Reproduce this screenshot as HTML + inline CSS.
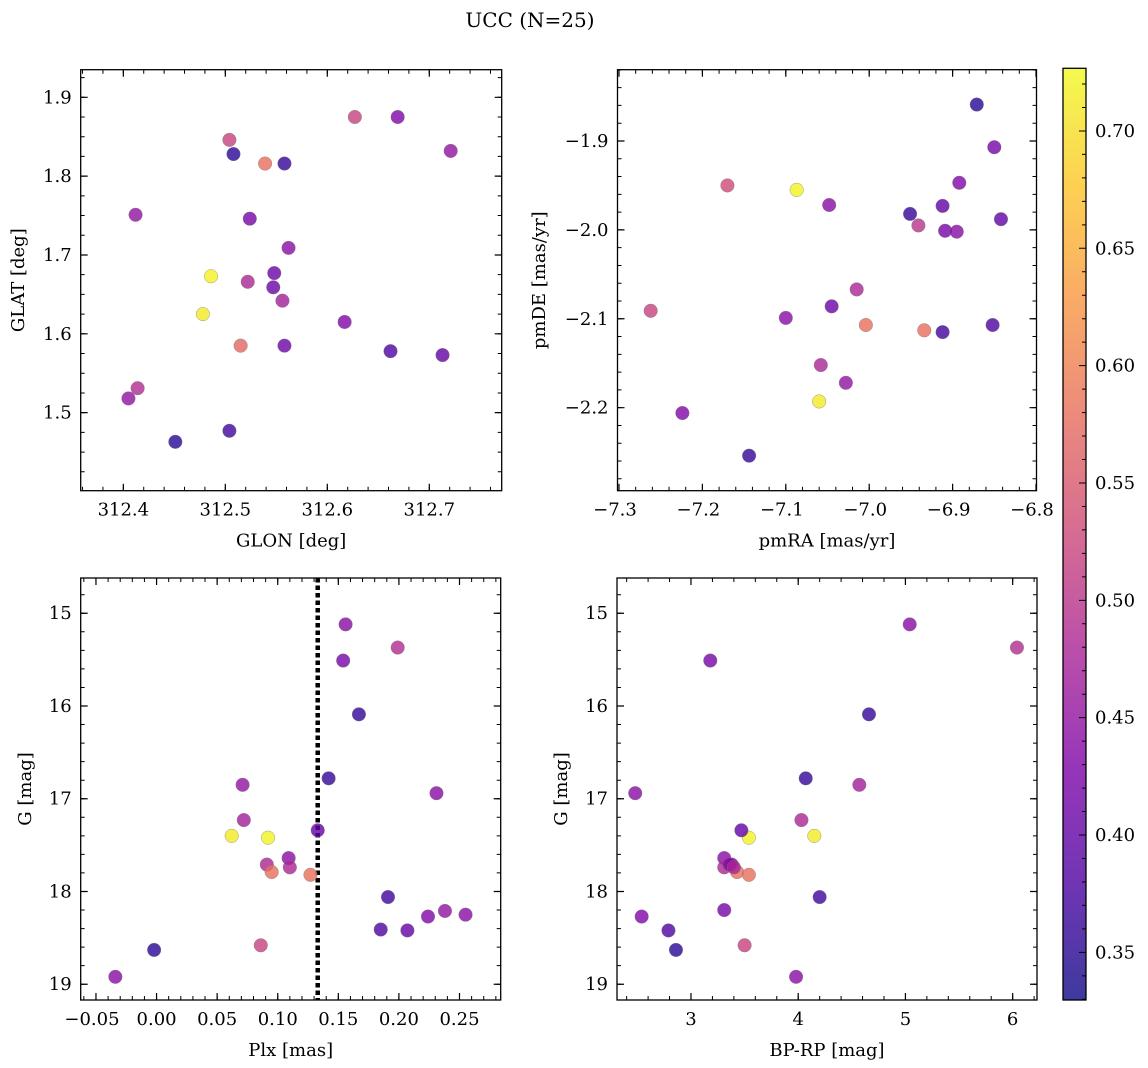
<!DOCTYPE html>
<html><head><meta charset="utf-8">
<style>
html,body{margin:0;padding:0;background:#fff;}
svg{display:block;font-family:"DejaVu Serif","Liberation Serif",serif;}
</style></head>
<body>
<svg id="fig" width="1148" height="1068" viewBox="0 0 1148 1068" xmlns="http://www.w3.org/2000/svg">
<defs>
<linearGradient id="plasma" x1="0" y1="1" x2="0" y2="0">
<stop offset="0" stop-color="#0d0887"/><stop offset="0.125" stop-color="#4c02a1"/><stop offset="0.25" stop-color="#7e03a8"/><stop offset="0.375" stop-color="#a92395"/><stop offset="0.5" stop-color="#cc4778"/><stop offset="0.625" stop-color="#e66c5c"/><stop offset="0.75" stop-color="#f89540"/><stop offset="0.875" stop-color="#fdc527"/><stop offset="1" stop-color="#f0f921"/>
</linearGradient>
</defs>
<text x="530" y="27" text-anchor="middle" font-size="20">UCC (N=25)</text>
</svg>
<script>
// Panel 1: GLON vs GLAT
const glon1 = [312.504,312.508,312.539,312.558,312.627,312.669,312.721,312.412,312.524,312.562,312.486,312.548,312.522,312.547,312.556,312.478,312.617,312.515,312.558,312.662,312.713,312.414,312.405,312.451,312.504];
const glat1 = [1.846,1.828,1.816,1.816,1.875,1.875,1.832,1.751,1.746,1.709,1.673,1.677,1.666,1.659,1.642,1.625,1.615,1.585,1.585,1.578,1.573,1.531,1.518,1.463,1.477];
const prob1 = [0.52,0.35,0.58,0.36,0.52,0.43,0.45,0.45,0.42,0.44,0.72,0.41,0.48,0.41,0.47,0.71,0.43,0.57,0.41,0.38,0.40,0.49,0.45,0.35,0.37];
// Panel 2: pmRA vs pmDE
const pmra2 = [-6.871,-6.850,-6.892,-6.951,-6.912,-6.842,-6.909,-6.895,-6.941,-7.170,-7.087,-7.048,-7.262,-7.015,-7.045,-7.100,-7.004,-6.934,-6.912,-6.852,-7.058,-7.028,-7.060,-7.224,-7.144];
const pmde2 = [-1.859,-1.907,-1.947,-1.982,-1.973,-1.988,-2.001,-2.002,-1.995,-1.950,-1.955,-1.972,-2.091,-2.067,-2.086,-2.099,-2.107,-2.113,-2.115,-2.107,-2.152,-2.172,-2.193,-2.206,-2.254];
const prob2 = [0.35,0.42,0.43,0.36,0.40,0.40,0.42,0.44,0.50,0.53,0.72,0.44,0.52,0.48,0.41,0.44,0.58,0.58,0.37,0.38,0.48,0.45,0.71,0.43,0.36];
// Panel 3: Plx vs G
const plx3 = [0.156,0.199,0.154,0.167,0.142,0.071,0.231,0.072,0.062,0.092,0.133,0.091,0.109,0.110,0.095,0.127,0.191,0.238,0.224,0.255,0.185,0.207,0.086,-0.002,-0.034];
const g3 = [15.12,15.37,15.51,16.09,16.78,16.85,16.94,17.23,17.40,17.42,17.34,17.71,17.64,17.74,17.79,17.82,18.06,18.21,18.27,18.25,18.41,18.42,18.58,18.63,18.92];
const prob3 = [0.44,0.49,0.42,0.36,0.36,0.45,0.44,0.47,0.71,0.72,0.40,0.48,0.44,0.48,0.58,0.58,0.37,0.45,0.43,0.44,0.38,0.40,0.52,0.35,0.44];
const plxLine = [0.133];
// Panel 4: BP-RP vs G
const bprp4 = [5.04,6.04,3.18,4.66,4.07,4.57,2.48,4.03,4.15,3.54,3.47,3.31,3.38,3.31,3.43,3.54,4.20,3.31,2.54,2.79,2.86,3.50,3.98,3.36,3.40];
const g4 = [15.12,15.37,15.51,16.09,16.78,16.85,16.94,17.23,17.40,17.42,17.34,17.64,17.71,17.74,17.79,17.82,18.06,18.20,18.27,18.42,18.63,18.58,18.92,17.71,17.74];
const prob4 = [0.44,0.49,0.42,0.36,0.36,0.47,0.44,0.48,0.71,0.72,0.40,0.44,0.42,0.48,0.58,0.58,0.37,0.42,0.43,0.38,0.35,0.52,0.44,0.44,0.48];
// Tick labels
const ticksX1 = ["312.4","312.5","312.6","312.7"];
const ticksY1 = ["1.5","1.6","1.7","1.8","1.9"];
const ticksX2 = ["−7.3","−7.2","−7.1","−7.0","−6.9","−6.8"];
const ticksY2 = ["−2.2","−2.1","−2.0","−1.9"];
const ticksX3 = ["−0.05","0.00","0.05","0.10","0.15","0.20","0.25"];
const ticksY34 = ["15","16","17","18","19"];
const ticksX4 = ["3","4","5","6"];
const ticksCb = ["0.35","0.40","0.45","0.50","0.55","0.60","0.65","0.70"];

const VMIN = 0.3297, VMAX = 0.7267;
const NS = "http://www.w3.org/2000/svg";
const svg = document.getElementById('fig');
const stops = [[13,8,135],[76,2,161],[126,3,168],[169,35,149],[204,71,120],[230,108,92],[248,149,64],[253,197,39],[240,249,33]];
function cmap(v){
  let t = Math.max(0, Math.min(1, (v - VMIN) / (VMAX - VMIN))) * 8;
  const i = Math.min(7, Math.floor(t)); const f = t - i;
  const c = stops[i].map((a, k) => Math.round(a + (stops[i+1][k] - a) * f));
  return 'rgb(' + c.join(',') + ')';
}
function mk(tag, attrs, parent){
  const e = document.createElementNS(NS, tag);
  for (const k in attrs) e.setAttribute(k, attrs[k]);
  (parent || svg).appendChild(e); return e;
}
function num(s){ return parseFloat(s.replace('−','-')); }
const FS = 18;

function panel(cfg){
  const g = mk('g', {});
  
  
  const L = cfg.L, R = cfg.R, T = cfg.T, B = cfg.B;
  const sx = v => L + (v - cfg.x0) / (cfg.x1 - cfg.x0) * (R - L);
  const sy = cfg.invert ? (v => T + (v - cfg.y0) / (cfg.y1 - cfg.y0) * (B - T))
                        : (v => B - (v - cfg.y0) / (cfg.y1 - cfg.y0) * (B - T));
  const minorX = [], minorY = [];
  for (let v = Math.ceil(cfg.x0 / cfg.mx - 1e-6) * cfg.mx; v <= cfg.x1 + 1e-9; v += cfg.mx) minorX.push(sx(v));
  for (let v = Math.ceil(cfg.y0 / cfg.my - 1e-6) * cfg.my; v <= cfg.y1 + 1e-9; v += cfg.my) minorY.push(sy(v));
  let d = '';
  minorX.forEach(x => { d += `M${x} ${B}v-4M${x} ${T}v4`; });
  minorY.forEach(y => { d += `M${L} ${y}h4M${R} ${y}h-4`; });
  const mt = mk('path', {d: d, stroke: '#000', 'stroke-width': 1, fill: 'none'}, g);
  
  
  if (cfg.vline){
    const vl = mk('line', {x1: sx(cfg.vline[0]), x2: sx(cfg.vline[0]), y1: T, y2: B, stroke: '#000', 'stroke-width': 4.5, 'stroke-dasharray': '4.5,3'}, g);
    
    
  }
  for (let i = 0; i < cfg.xs.length; i++){
    const c = mk('circle', {cx: sx(cfg.xs[i]), cy: sy(cfg.ys[i]), r: 6.8, fill: cmap(cfg.cs[i]), 'fill-opacity': 0.8, stroke: '#777', 'stroke-width': 0.5, 'stroke-opacity': 0.7}, g);
    
    
  }
  d = '';
  cfg.tx.forEach(t => {
    const x = sx(num(t)); d += `M${x} ${B}v-7M${x} ${T}v7`;
    const tl = mk('text', {x: x - (t[0] === '−' ? 4 : 0), y: B + 25, 'text-anchor': 'middle', 'font-size': FS}, g);
    tl.textContent = t;
    
    
  });
  cfg.ty.forEach(t => {
    const y = sy(num(t)); d += `M${L} ${y}h7M${R} ${y}h-7`;
    const tl = mk('text', {x: L - 9, y: y + 6, 'text-anchor': 'end', 'font-size': FS}, g);
    tl.textContent = t;
    
    
  });
  const Mt = mk('path', {d: d, stroke: '#000', 'stroke-width': 1.2, fill: 'none'}, g);
  
  
  const fr = mk('rect', {x: L, y: T, width: R - L, height: B - T, fill: 'none', stroke: '#000', 'stroke-width': 1.3}, g);
  
  
  const xl = mk('text', {x: (L + R) / 2, y: B + 56, 'text-anchor': 'middle', 'font-size': FS}, g);
  xl.textContent = cfg.xlabel;
  
  
  const yl = mk('text', {x: 0, y: 0, 'text-anchor': 'middle', 'font-size': FS, transform: `translate(${cfg.ylx},${(T + B) / 2}) rotate(-90)`}, g);
  yl.textContent = cfg.ylabel;
  
  
}

panel({name:'glon-glat-panel', L:80.7, R:501.7, T:69.7, B:490.7, x0:312.3582, x1:312.771, y0:1.401, y1:1.935, mx:0.02, my:0.025,
  xs:glon1, ys:glat1, cs:prob1, tx:ticksX1, ty:ticksY1, xlabel:'GLON [deg]', ylabel:'GLAT [deg]', ylx:24});
panel({name:'pm-panel', L:617.5, R:1036.5, T:69.7, B:490.7, x0:-7.3018, x1:-6.7994, y0:-2.2934, y1:-1.8198, mx:0.02, my:0.02,
  xs:pmra2, ys:pmde2, cs:prob2, tx:ticksX2, ty:ticksY2, xlabel:'pmRA [mas/yr]', ylabel:'pmDE [mas/yr]', ylx:545});
panel({name:'plx-g-panel', L:80.7, R:500.7, T:578, B:1000, x0:-0.0626, x1:0.284, y0:14.62, y1:19.17, mx:0.01, my:0.2, invert:true,
  vline:plxLine, xs:plx3, ys:g3, cs:prob3, tx:ticksX3, ty:ticksY34, xlabel:'Plx [mas]', ylabel:'G [mag]', ylx:31});
panel({name:'cmd-panel', L:617, R:1037, T:578, B:1000, x0:2.31, x1:6.227, y0:14.62, y1:19.17, mx:0.2, my:0.2, invert:true,
  xs:bprp4, ys:g4, cs:prob4, tx:ticksX4, ty:ticksY34, xlabel:'BP-RP [mag]', ylabel:'G [mag]', ylx:567});

(function(){
  const g = mk('g', {});
  
  
  const L = 1063, R = 1086, T = 68.3, B = 1000;
  const sy = v => B - (v - VMIN) / (VMAX - VMIN) * (B - T);
  const r = mk('rect', {x: L, y: T, width: R - L, height: B - T, fill: 'url(#plasma)', 'fill-opacity': 0.8, stroke: '#000', 'stroke-width': 1.3}, g);
  
  
  let d = '';
  for (let v = 0.33; v <= VMAX; v += 0.01) d += `M${R} ${sy(v)}h-4`;
  ticksCb.forEach(t => {
    const y = sy(num(t)); d += `M${R} ${y}h-7`;
    const tl = mk('text', {x: R + 9, y: y + 6, 'font-size': FS}, g);
    tl.textContent = t;
    
    
  });
  const p = mk('path', {d: d, stroke: '#000', 'stroke-width': 1, fill: 'none'}, g);
  
  
})();
</script>
</body></html>
